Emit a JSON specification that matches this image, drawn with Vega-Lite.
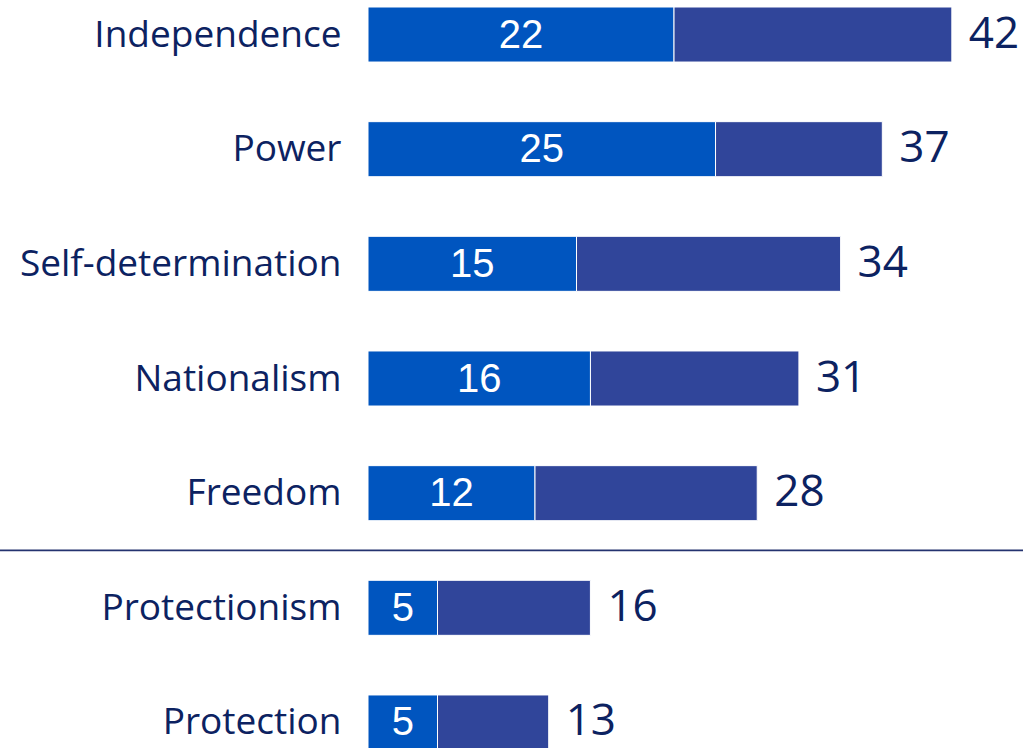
{
  "$schema": "https://vega.github.io/schema/vega-lite/v6.json",
  "autosize": "none",
  "padding": {"left": 368, "top": 7, "right": 0, "bottom": 0},
  "width": 655,
  "height": 743,
  "background": "white",
  "config": {"view": {"stroke": null}},
  "data": {
    "values": [
      {"item": "Independence", "part": 22, "total": 42},
      {"item": "Power", "part": 25, "total": 37},
      {"item": "Self-determination", "part": 15, "total": 34},
      {"item": "Nationalism", "part": 16, "total": 31},
      {"item": "Freedom", "part": 12, "total": 28},
      {"item": "Protectionism", "part": 5, "total": 16},
      {"item": "Protection", "part": 5, "total": 13}
    ]
  },
  "transform": [{"calculate": "datum.part / 2", "as": "mid"}],
  "encoding": {
    "y": {
      "field": "item",
      "type": "nominal",
      "sort": null,
      "scale": {"paddingInner": 0.52, "paddingOuter": 0},
      "axis": {
        "title": null,
        "ticks": false,
        "domain": false,
        "labelPadding": 27,
        "labelFont": "Open Sans",
        "labelFontSize": 37,
        "labelColor": "#0C2261",
        "labelLimit": 400,
        "labelOffset": 1
      }
    }
  },
  "layer": [
    {
      "mark": {"type": "bar", "color": "#30459A", "stroke": "white", "strokeWidth": 1},
      "encoding": {
        "x": {"field": "part", "type": "quantitative", "scale": {"domain": [0, 47.12], "nice": false}, "axis": null},
        "x2": {"field": "total"}
      }
    },
    {
      "mark": {"type": "bar", "color": "#0055BF", "stroke": "white", "strokeWidth": 1},
      "encoding": {
        "x": {"field": "part", "type": "quantitative", "scale": {"domain": [0, 47.12], "nice": false}, "axis": null}
      }
    },
    {
      "mark": {"type": "text", "color": "white", "font": "Liberation Sans", "fontSize": 40, "align": "center", "baseline": "middle", "dy": 1},
      "encoding": {
        "x": {"field": "mid", "type": "quantitative", "scale": {"domain": [0, 47.12], "nice": false}, "axis": null},
        "text": {"field": "part", "type": "quantitative"}
      }
    },
    {
      "mark": {"type": "text", "color": "#0C2261", "font": "Open Sans", "fontSize": 44, "align": "left", "baseline": "middle", "dx": 17, "dy": 0},
      "encoding": {
        "x": {"field": "total", "type": "quantitative", "scale": {"domain": [0, 47.12], "nice": false}, "axis": null},
        "text": {"field": "total", "type": "quantitative"}
      }
    },
    {
      "data": {"values": [{"sep": "Freedom"}]},
      "mark": {"type": "rule", "color": "#24336F", "strokeWidth": 1.8},
      "encoding": {
        "y": {"datum": "Freedom", "bandPosition": 1.54},
        "x": {"datum": -27, "type": "quantitative", "scale": {"domain": [0, 47.12], "nice": false}, "axis": null},
        "x2": {"datum": 48}
      }
    }
  ]
}
